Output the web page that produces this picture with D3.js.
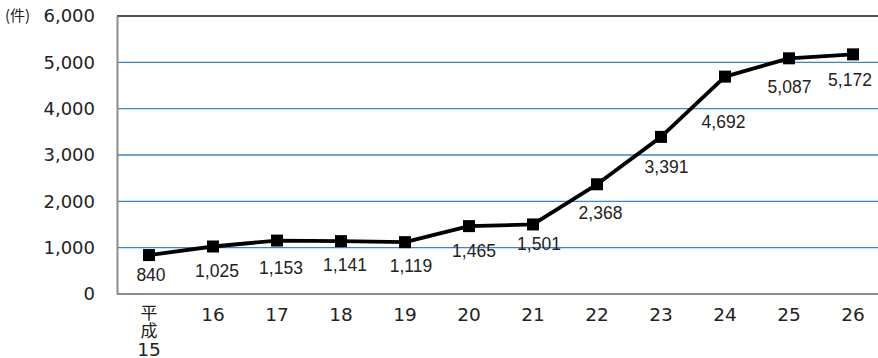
<!DOCTYPE html>
<html>
<head>
<meta charset="utf-8">
<script src="https://cdn.jsdelivr.net/npm/d3@7"></script>
<style>
  html, body { margin: 0; padding: 0; background: #fff; }
  svg { display: block; }
</style>
</head>
<body>
<svg id="chart" width="878" height="358"></svg>
<script>
// 年度（平成）と件数
const years = ["15", "16", "17", "18", "19", "20", "21", "22", "23", "24", "25", "26"];
const counts = [840, 1025, 1153, 1141, 1119, 1465, 1501, 2368, 3391, 4692, 5087, 5172];
const yTicks = [0, 1000, 2000, 3000, 4000, 5000, 6000];
const unitLabel = "(件)";
const eraLabel = ["平", "成"];

// label placement relative to each point [dx, dy] (to the text centre)
const labelNudge = [
  [2, 20], [4, 24], [4, 27], [4, 23.5], [6, 24], [5, 24.5], [6, 19.5],
  [3.5, 28], [5.5, 29.5], [-1.5, 45], [0.5, 28], [-3, 25.5]
];

(function () {
  const svg = d3.select("#chart");
  const plotLeft = 117, plotTop = 16, plotBottom = 294, step = 64;

  const x = d3.scaleBand()
    .domain(years)
    .range([plotLeft, plotLeft + step * years.length]);

  const y = d3.scaleLinear()
    .domain([0, 6000])
    .range([plotBottom, plotTop]);

  const axisFont = "'DejaVu Sans', Verdana, sans-serif";
  const cjkFont = "'Noto Sans CJK JP', sans-serif";
  const labelFont = "'Liberation Sans', Arial, sans-serif";

  // gridlines
  svg.append("g")
    .selectAll("line")
    .data(yTicks.filter(d => d > 0 && d < 6000))
    .join("line")
    .attr("x1", plotLeft).attr("x2", 878)
    .attr("y1", d => y(d)).attr("y2", d => y(d))
    .attr("stroke", "#3f85c3").attr("stroke-width", 1.4);

  // top border
  svg.append("line")
    .attr("x1", plotLeft).attr("x2", 878)
    .attr("y1", y(6000)).attr("y2", y(6000))
    .attr("stroke", "#1a1a1a").attr("stroke-width", 1.4);

  // y axis
  const yAxis = svg.append("g")
    .attr("transform", `translate(${plotLeft},0)`)
    .call(d3.axisLeft(y).tickValues(yTicks).tickSize(0).tickPadding(22)
      .tickFormat(d3.format(",")));
  yAxis.select(".domain").attr("stroke", "#8c8c8c").attr("stroke-width", 2);
  yAxis.selectAll("text")
    .attr("font-family", axisFont).attr("font-size", 18).attr("fill", "#222");

  // x axis
  const xAxis = svg.append("g")
    .attr("transform", `translate(0,${plotBottom})`)
    .call(d3.axisBottom(x).tickSize(0).tickFormat(d => d));
  xAxis.select(".domain").attr("stroke", "#8c8c8c").attr("stroke-width", 2)
    .attr("d", `M${plotLeft},0H878`);
  xAxis.selectAll("text")
    .attr("y", 27).attr("dy", null)
    .attr("font-family", axisFont).attr("font-size", 18.5).attr("fill", "#222");

  // first tick gets the era name stacked above the number
  const firstTick = xAxis.selectAll(".tick").filter(d => d === years[0]);
  firstTick.select("text").attr("y", 62);
  firstTick.selectAll(".era")
    .data(eraLabel)
    .join("text")
    .attr("class", "era")
    .attr("text-anchor", "middle")
    .attr("y", (d, i) => 25 + i * 18)
    .attr("font-family", cjkFont).attr("font-size", 17).attr("fill", "#222")
    .text(d => d);

  // unit label
  svg.append("text")
    .attr("x", 5).attr("y", 21)
    .attr("font-family", cjkFont).attr("font-size", 15).attr("fill", "#222")
    .text(unitLabel);

  // line
  const cx = d => x(d) + x.bandwidth() / 2;
  const line = d3.line()
    .x((d, i) => cx(years[i]))
    .y(d => y(d));
  svg.append("path")
    .datum(counts)
    .attr("d", line)
    .attr("fill", "none")
    .attr("stroke", "#000")
    .attr("stroke-width", 3.8)
    .attr("stroke-linejoin", "round");

  // markers
  const ms = 12;
  svg.append("g")
    .selectAll("rect")
    .data(counts)
    .join("rect")
    .attr("x", (d, i) => cx(years[i]) - ms / 2)
    .attr("y", d => y(d) - ms / 2)
    .attr("width", ms).attr("height", ms)
    .attr("fill", "#000");

  // value labels
  svg.append("g")
    .selectAll("text")
    .data(counts)
    .join("text")
    .attr("x", (d, i) => cx(years[i]) + labelNudge[i][0])
    .attr("y", (d, i) => y(d) + labelNudge[i][1])
    .attr("dy", "0.36em")
    .attr("text-anchor", "middle")
    .attr("font-family", labelFont).attr("font-size", 17.5).attr("fill", "#222")
    .text(d => d3.format(",")(d));
})();
</script>
</body>
</html>
